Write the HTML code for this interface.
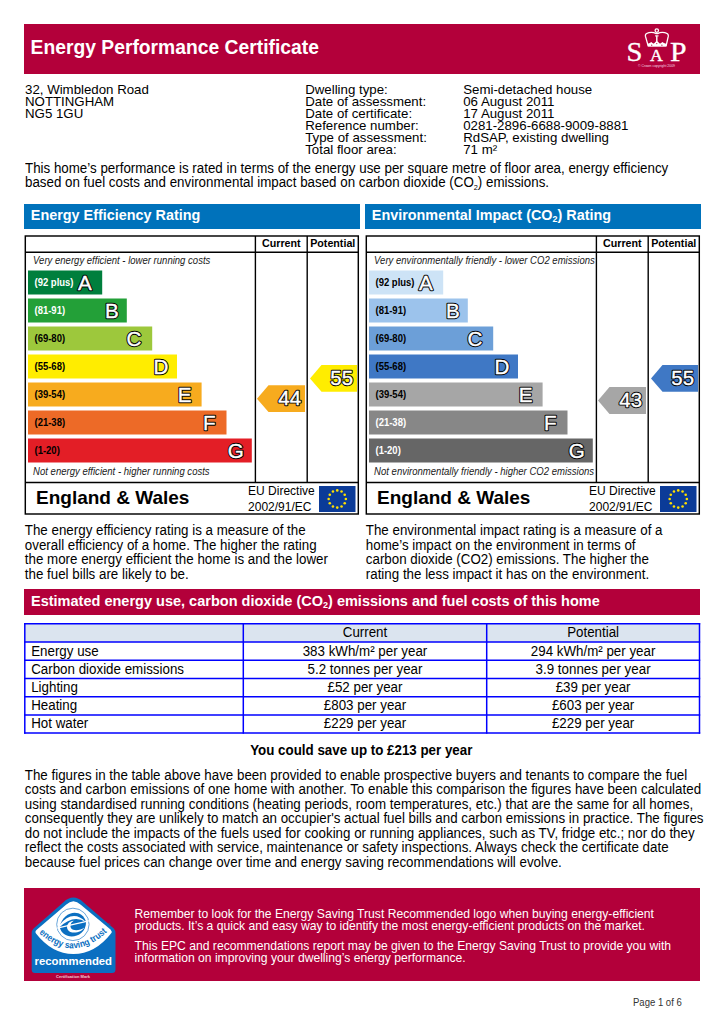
<!DOCTYPE html>
<html><head><meta charset="utf-8"><title>Energy Performance Certificate</title>
<style>
html,body{margin:0;padding:0;background:#fff;}
body{width:724px;height:1024px;position:relative;overflow:hidden;font-family:"Liberation Sans",sans-serif;}
.t{position:absolute;white-space:pre;line-height:1;transform:scaleY(1.05);transform-origin:0 0.8467em;}
.b{position:absolute;}
sub{font-size:0.62em;vertical-align:-0.25em;line-height:0;}
.s2{font-size:0.55em;vertical-align:-0.45em;line-height:0;}
svg{position:absolute;left:0;top:0;}
</style></head><body>
<div class="b" style="left:24px;top:24px;width:676px;height:49.5px;background:#b3003a"></div>
<div class="t" style="left:30.60px;top:37.86px;font-size:19.3px;font-weight:bold;font-style:normal;color:#fff;transform:none;">Energy Performance Certificate</div>
<svg width="724" height="80" viewBox="0 0 724 80" style="left:0;top:0">
<g fill="#fff" font-family="Liberation Serif" font-weight="normal" stroke="#fff" stroke-width="0.35">
<text transform="translate(626.4 60.6) scale(1.04 1)" font-size="27.5">S</text>
<text transform="translate(650.0 60.9) scale(1.08 1)" font-size="16.5">A</text>
<text transform="translate(670.0 60.9) scale(1.08 1)" font-size="27.5">P</text>
</g>
<text x="638" y="66.8" font-size="4" font-family="Liberation Sans" fill="#f3dce3" textLength="37" lengthAdjust="spacingAndGlyphs">© Crown copyright 2009</text>
<g fill="none" stroke="#fff" stroke-width="1.3">
<circle cx="656.8" cy="30.6" r="1.7"/>
<path d="M645.4 36.2 C644.9 32.6 651.7 31.2 656.2 33.6 L657.6 33.6 C662 31.2 668.8 32.6 668.3 36.2 L666.2 45.6 L648.1 45.6 Z"/>
</g>
<g fill="#fff">
<rect x="647.8" y="43.6" width="18.6" height="3"/>
<path d="M648.2 44 L651.3 41.9 L653.6 44 L656.8 40.6 L660 44 L662.3 41.9 L665.6 44 Z"/>
<rect x="656.1" y="35.6" width="1.4" height="5.5"/>
<rect x="655.0" y="35.4" width="3.6" height="1"/>
</g>
<g fill="#b3003a">
<circle cx="651.7" cy="45.2" r="0.6"/><circle cx="656.8" cy="43.6" r="0.6"/><circle cx="661.9" cy="45.2" r="0.6"/>
</g>
</svg>
<div class="t" style="left:25.00px;top:82.96px;font-size:13.28px;font-weight:normal;font-style:normal;color:#000;transform:none;">32, Wimbledon Road</div>
<div class="t" style="left:25.00px;top:94.96px;font-size:13.28px;font-weight:normal;font-style:normal;color:#000;transform:none;">NOTTINGHAM</div>
<div class="t" style="left:25.00px;top:106.96px;font-size:13.28px;font-weight:normal;font-style:normal;color:#000;transform:none;">NG5 1GU</div>
<div class="t" style="left:305.20px;top:82.96px;font-size:13.28px;font-weight:normal;font-style:normal;color:#000;transform:none;">Dwelling type:</div>
<div class="t" style="left:463.20px;top:82.96px;font-size:13.28px;font-weight:normal;font-style:normal;color:#000;transform:none;">Semi-detached house</div>
<div class="t" style="left:305.20px;top:94.96px;font-size:13.28px;font-weight:normal;font-style:normal;color:#000;transform:none;">Date of assessment:</div>
<div class="t" style="left:463.20px;top:94.96px;font-size:13.28px;font-weight:normal;font-style:normal;color:#000;transform:none;">06 August 2011</div>
<div class="t" style="left:305.20px;top:106.96px;font-size:13.28px;font-weight:normal;font-style:normal;color:#000;transform:none;">Date of certificate:</div>
<div class="t" style="left:463.20px;top:106.96px;font-size:13.28px;font-weight:normal;font-style:normal;color:#000;transform:none;">17 August 2011</div>
<div class="t" style="left:305.20px;top:118.96px;font-size:13.28px;font-weight:normal;font-style:normal;color:#000;transform:none;">Reference number:</div>
<div class="t" style="left:463.20px;top:118.96px;font-size:13.28px;font-weight:normal;font-style:normal;color:#000;transform:none;">0281-2896-6688-9009-8881</div>
<div class="t" style="left:305.20px;top:130.96px;font-size:13.28px;font-weight:normal;font-style:normal;color:#000;transform:none;">Type of assessment:</div>
<div class="t" style="left:463.20px;top:130.96px;font-size:13.28px;font-weight:normal;font-style:normal;color:#000;transform:none;">RdSAP, existing dwelling</div>
<div class="t" style="left:305.20px;top:142.96px;font-size:13.28px;font-weight:normal;font-style:normal;color:#000;transform:none;">Total floor area:</div>
<div class="t" style="left:463.20px;top:142.96px;font-size:13.28px;font-weight:normal;font-style:normal;color:#000;transform:none;">71 m²</div>
<div class="t" style="left:25.00px;top:162.40px;font-size:13.35px;font-weight:normal;font-style:normal;color:#000;">This home’s performance is rated in terms of the energy use per square metre of floor area, energy efficiency</div>
<div class="t" style="left:25.00px;top:176.40px;font-size:13.35px;font-weight:normal;font-style:normal;color:#000;">based on fuel costs and environmental impact based on carbon dioxide (CO<span class="s2">2</span>) emissions.</div>
<div class="b" style="left:24px;top:204px;width:335.5px;height:25px;background:#0072bb"></div>
<div class="t" style="left:30.80px;top:207.71px;font-size:14.4px;font-weight:bold;font-style:normal;color:#fff;">Energy Efficiency Rating</div>
<svg width="724" height="1024" viewBox="0 0 724 1024" style="left:0;top:0"><rect x="25.3" y="236.0" width="333.0" height="278.0" fill="none" stroke="#000" stroke-width="1.45"/><line x1="25.3" y1="252.2" x2="358.3" y2="252.2" stroke="#000" stroke-width="1.45"/><line x1="25.3" y1="482.4" x2="358.3" y2="482.4" stroke="#000" stroke-width="1.45"/><line x1="255.4" y1="236.0" x2="255.4" y2="482.4" stroke="#000" stroke-width="1.4"/><line x1="307.2" y1="236.0" x2="307.2" y2="482.4" stroke="#000" stroke-width="1.4"/><g font-family="Liberation Sans" font-weight="bold" font-size="10.7" text-anchor="middle"><text x="281.3" y="247">Current</text><text x="332.75" y="247">Potential</text></g><text transform="translate(33.1 264.0) scale(1 1.12)" font-family="Liberation Sans" font-style="italic" font-size="9.55" fill="#1a1a1a">Very energy efficient - lower running costs</text><text transform="translate(33.1 475.3) scale(1 1.12)" font-family="Liberation Sans" font-style="italic" font-size="9.55" fill="#1a1a1a">Not energy efficient - higher running costs</text><rect x="28" y="270.5" width="74.20" height="24" fill="#007f3d"/><text transform="translate(34.5 285.60) scale(1 1.18)" font-family="Liberation Sans" font-weight="bold" font-size="9.5" fill="#fff">(92 plus)</text><g font-family="Liberation Sans" font-size="20.6" text-anchor="end"><text x="91.64" y="289.50" fill="#000" stroke="#000" stroke-width="2.4" stroke-linejoin="round">A</text><text x="91.64" y="289.50" fill="#fff" stroke="#fff" stroke-width="0.4">A</text></g><rect x="28" y="298.5" width="98.80" height="24" fill="#23a038"/><text transform="translate(34.5 313.60) scale(1 1.18)" font-family="Liberation Sans" font-weight="bold" font-size="9.5" fill="#fff">(81-91)</text><g font-family="Liberation Sans" font-size="20.6" text-anchor="end"><text x="118.79" y="317.50" fill="#000" stroke="#000" stroke-width="2.4" stroke-linejoin="round">B</text><text x="118.79" y="317.50" fill="#fff" stroke="#fff" stroke-width="0.4">B</text></g><rect x="28" y="326.5" width="124.20" height="24" fill="#9dc83c"/><text transform="translate(34.5 341.60) scale(1 1.18)" font-family="Liberation Sans" font-weight="bold" font-size="9.5" fill="#000">(69-80)</text><g font-family="Liberation Sans" font-size="20.6" text-anchor="end"><text x="141.38" y="345.50" fill="#000" stroke="#000" stroke-width="2.4" stroke-linejoin="round">C</text><text x="141.38" y="345.50" fill="#fff" stroke="#fff" stroke-width="0.4">C</text></g><rect x="28" y="354.5" width="149.00" height="24" fill="#ffed00"/><text transform="translate(34.5 369.60) scale(1 1.18)" font-family="Liberation Sans" font-weight="bold" font-size="9.5" fill="#000">(55-68)</text><g font-family="Liberation Sans" font-size="20.6" text-anchor="end"><text x="168.49" y="373.50" fill="#000" stroke="#000" stroke-width="2.4" stroke-linejoin="round">D</text><text x="168.49" y="373.50" fill="#fff" stroke="#fff" stroke-width="0.4">D</text></g><rect x="28" y="382.5" width="173.60" height="24" fill="#f7ab1e"/><text transform="translate(34.5 397.60) scale(1 1.18)" font-family="Liberation Sans" font-weight="bold" font-size="9.5" fill="#000">(39-54)</text><g font-family="Liberation Sans" font-size="20.6" text-anchor="end"><text x="191.49" y="401.50" fill="#000" stroke="#000" stroke-width="2.4" stroke-linejoin="round">E</text><text x="191.49" y="401.50" fill="#fff" stroke="#fff" stroke-width="0.4">E</text></g><rect x="28" y="410.5" width="198.50" height="24" fill="#ed6a27"/><text transform="translate(34.5 425.60) scale(1 1.18)" font-family="Liberation Sans" font-weight="bold" font-size="9.5" fill="#000">(21-38)</text><g font-family="Liberation Sans" font-size="20.6" text-anchor="end"><text x="215.52" y="429.50" fill="#000" stroke="#000" stroke-width="2.4" stroke-linejoin="round">F</text><text x="215.52" y="429.50" fill="#fff" stroke="#fff" stroke-width="0.4">F</text></g><rect x="28" y="438.5" width="223.80" height="24" fill="#e31e26"/><text transform="translate(34.5 453.60) scale(1 1.18)" font-family="Liberation Sans" font-weight="bold" font-size="9.5" fill="#000">(1-20)</text><g font-family="Liberation Sans" font-size="20.6" text-anchor="end"><text x="243.84" y="457.50" fill="#000" stroke="#000" stroke-width="2.4" stroke-linejoin="round">G</text><text x="243.84" y="457.50" fill="#fff" stroke="#fff" stroke-width="0.4">G</text></g><polygon points="257.0,398.64 268.5,385.24 305.0,385.24 305.0,412.04 268.5,412.04" fill="#f7ab1e"/><g font-family="Liberation Sans" font-size="20.4" text-anchor="end"><text x="301.00" y="405.44" fill="#000" stroke="#000" stroke-width="2.4" stroke-linejoin="round">44</text><text x="301.00" y="405.44" fill="#fff" stroke="#fff" stroke-width="0.4">44</text></g><polygon points="310.0,378.4 321.5,365.0 357.0,365.0 357.0,391.8 321.5,391.8" fill="#ffed00"/><g font-family="Liberation Sans" font-size="20.4" text-anchor="end"><text x="353.00" y="385.20" fill="#000" stroke="#000" stroke-width="2.4" stroke-linejoin="round">55</text><text x="353.00" y="385.20" fill="#fff" stroke="#fff" stroke-width="0.4">55</text></g><text x="36" y="503.7" font-family="Liberation Sans" font-weight="bold" font-size="19">England &amp; Wales</text><text x="248.1" y="495.4" font-family="Liberation Sans" font-size="12">EU Directive</text><text x="248.1" y="510.5" font-family="Liberation Sans" font-size="12">2002/91/EC</text><rect x="319" y="486" width="36.5" height="26" fill="#0b3b98"/><circle cx="337.25" cy="490.40" r="1.3" fill="#ffe000"/><circle cx="341.55" cy="491.55" r="1.3" fill="#ffe000"/><circle cx="344.70" cy="494.70" r="1.3" fill="#ffe000"/><circle cx="345.85" cy="499.00" r="1.3" fill="#ffe000"/><circle cx="344.70" cy="503.30" r="1.3" fill="#ffe000"/><circle cx="341.55" cy="506.45" r="1.3" fill="#ffe000"/><circle cx="337.25" cy="507.60" r="1.3" fill="#ffe000"/><circle cx="332.95" cy="506.45" r="1.3" fill="#ffe000"/><circle cx="329.80" cy="503.30" r="1.3" fill="#ffe000"/><circle cx="328.65" cy="499.00" r="1.3" fill="#ffe000"/><circle cx="329.80" cy="494.70" r="1.3" fill="#ffe000"/><circle cx="332.95" cy="491.55" r="1.3" fill="#ffe000"/></svg>
<div class="b" style="left:365px;top:204px;width:335.5px;height:25px;background:#0072bb"></div>
<div class="t" style="left:371.80px;top:207.71px;font-size:14.4px;font-weight:bold;font-style:normal;color:#fff;">Environmental Impact (CO<sub>2</sub>) Rating</div>
<svg width="724" height="1024" viewBox="0 0 724 1024" style="left:0;top:0"><rect x="366.3" y="236.0" width="332.99999999999994" height="278.0" fill="none" stroke="#000" stroke-width="1.45"/><line x1="366.3" y1="252.2" x2="699.3" y2="252.2" stroke="#000" stroke-width="1.45"/><line x1="366.3" y1="482.4" x2="699.3" y2="482.4" stroke="#000" stroke-width="1.45"/><line x1="596.4" y1="236.0" x2="596.4" y2="482.4" stroke="#000" stroke-width="1.4"/><line x1="648.2" y1="236.0" x2="648.2" y2="482.4" stroke="#000" stroke-width="1.4"/><g font-family="Liberation Sans" font-weight="bold" font-size="10.7" text-anchor="middle"><text x="622.3" y="247">Current</text><text x="673.75" y="247">Potential</text></g><text transform="translate(374.1 264.0) scale(1 1.12)" font-family="Liberation Sans" font-style="italic" font-size="9.55" fill="#1a1a1a">Very environmentally friendly - lower CO2 emissions</text><text transform="translate(374.1 475.3) scale(1 1.12)" font-family="Liberation Sans" font-style="italic" font-size="9.55" fill="#1a1a1a">Not environmentally friendly - higher CO2 emissions</text><rect x="369" y="270.5" width="74.20" height="24" fill="#cde3f6"/><text transform="translate(375.5 285.60) scale(1 1.18)" font-family="Liberation Sans" font-weight="bold" font-size="9.5" fill="#000">(92 plus)</text><g font-family="Liberation Sans" font-size="20.6" text-anchor="end"><text x="432.64" y="289.50" fill="#000" stroke="#000" stroke-width="2.4" stroke-linejoin="round">A</text><text x="432.64" y="289.50" fill="#fff" stroke="#fff" stroke-width="0.4">A</text></g><rect x="369" y="298.5" width="98.80" height="24" fill="#9cc3ec"/><text transform="translate(375.5 313.60) scale(1 1.18)" font-family="Liberation Sans" font-weight="bold" font-size="9.5" fill="#000">(81-91)</text><g font-family="Liberation Sans" font-size="20.6" text-anchor="end"><text x="459.79" y="317.50" fill="#000" stroke="#000" stroke-width="2.4" stroke-linejoin="round">B</text><text x="459.79" y="317.50" fill="#fff" stroke="#fff" stroke-width="0.4">B</text></g><rect x="369" y="326.5" width="124.20" height="24" fill="#6c9fd8"/><text transform="translate(375.5 341.60) scale(1 1.18)" font-family="Liberation Sans" font-weight="bold" font-size="9.5" fill="#000">(69-80)</text><g font-family="Liberation Sans" font-size="20.6" text-anchor="end"><text x="482.38" y="345.50" fill="#000" stroke="#000" stroke-width="2.4" stroke-linejoin="round">C</text><text x="482.38" y="345.50" fill="#fff" stroke="#fff" stroke-width="0.4">C</text></g><rect x="369" y="354.5" width="149.00" height="24" fill="#3f78c5"/><text transform="translate(375.5 369.60) scale(1 1.18)" font-family="Liberation Sans" font-weight="bold" font-size="9.5" fill="#000">(55-68)</text><g font-family="Liberation Sans" font-size="20.6" text-anchor="end"><text x="509.49" y="373.50" fill="#000" stroke="#000" stroke-width="2.4" stroke-linejoin="round">D</text><text x="509.49" y="373.50" fill="#fff" stroke="#fff" stroke-width="0.4">D</text></g><rect x="369" y="382.5" width="173.60" height="24" fill="#a6a6a6"/><text transform="translate(375.5 397.60) scale(1 1.18)" font-family="Liberation Sans" font-weight="bold" font-size="9.5" fill="#000">(39-54)</text><g font-family="Liberation Sans" font-size="20.6" text-anchor="end"><text x="532.49" y="401.50" fill="#000" stroke="#000" stroke-width="2.4" stroke-linejoin="round">E</text><text x="532.49" y="401.50" fill="#fff" stroke="#fff" stroke-width="0.4">E</text></g><rect x="369" y="410.5" width="198.50" height="24" fill="#878787"/><text transform="translate(375.5 425.60) scale(1 1.18)" font-family="Liberation Sans" font-weight="bold" font-size="9.5" fill="#fff">(21-38)</text><g font-family="Liberation Sans" font-size="20.6" text-anchor="end"><text x="556.52" y="429.50" fill="#000" stroke="#000" stroke-width="2.4" stroke-linejoin="round">F</text><text x="556.52" y="429.50" fill="#fff" stroke="#fff" stroke-width="0.4">F</text></g><rect x="369" y="438.5" width="223.80" height="24" fill="#666666"/><text transform="translate(375.5 453.60) scale(1 1.18)" font-family="Liberation Sans" font-weight="bold" font-size="9.5" fill="#fff">(1-20)</text><g font-family="Liberation Sans" font-size="20.6" text-anchor="end"><text x="584.84" y="457.50" fill="#000" stroke="#000" stroke-width="2.4" stroke-linejoin="round">G</text><text x="584.84" y="457.50" fill="#fff" stroke="#fff" stroke-width="0.4">G</text></g><polygon points="598.0,400.47999999999996 609.5,387.08 646.0,387.08 646.0,413.88 609.5,413.88" fill="#a6a6a6"/><g font-family="Liberation Sans" font-size="20.4" text-anchor="end"><text x="642.00" y="407.28" fill="#000" stroke="#000" stroke-width="2.4" stroke-linejoin="round">43</text><text x="642.00" y="407.28" fill="#fff" stroke="#fff" stroke-width="0.4">43</text></g><polygon points="651.0,378.4 662.5,365.0 698.0,365.0 698.0,391.8 662.5,391.8" fill="#3f78c5"/><g font-family="Liberation Sans" font-size="20.4" text-anchor="end"><text x="694.00" y="385.20" fill="#000" stroke="#000" stroke-width="2.4" stroke-linejoin="round">55</text><text x="694.00" y="385.20" fill="#fff" stroke="#fff" stroke-width="0.4">55</text></g><text x="377" y="503.7" font-family="Liberation Sans" font-weight="bold" font-size="19">England &amp; Wales</text><text x="589.1" y="495.4" font-family="Liberation Sans" font-size="12">EU Directive</text><text x="589.1" y="510.5" font-family="Liberation Sans" font-size="12">2002/91/EC</text><rect x="660" y="486" width="36.5" height="26" fill="#0b3b98"/><circle cx="678.25" cy="490.40" r="1.3" fill="#ffe000"/><circle cx="682.55" cy="491.55" r="1.3" fill="#ffe000"/><circle cx="685.70" cy="494.70" r="1.3" fill="#ffe000"/><circle cx="686.85" cy="499.00" r="1.3" fill="#ffe000"/><circle cx="685.70" cy="503.30" r="1.3" fill="#ffe000"/><circle cx="682.55" cy="506.45" r="1.3" fill="#ffe000"/><circle cx="678.25" cy="507.60" r="1.3" fill="#ffe000"/><circle cx="673.95" cy="506.45" r="1.3" fill="#ffe000"/><circle cx="670.80" cy="503.30" r="1.3" fill="#ffe000"/><circle cx="669.65" cy="499.00" r="1.3" fill="#ffe000"/><circle cx="670.80" cy="494.70" r="1.3" fill="#ffe000"/><circle cx="673.95" cy="491.55" r="1.3" fill="#ffe000"/></svg>
<div class="t" style="left:24.80px;top:524.00px;font-size:13.35px;font-weight:normal;font-style:normal;color:#000;">The energy efficiency rating is a measure of the</div>
<div class="t" style="left:365.80px;top:524.00px;font-size:13.35px;font-weight:normal;font-style:normal;color:#000;">The environmental impact rating is a measure of a</div>
<div class="t" style="left:24.80px;top:538.60px;font-size:13.35px;font-weight:normal;font-style:normal;color:#000;">overall efficiency of a home. The higher the rating</div>
<div class="t" style="left:365.80px;top:538.60px;font-size:13.35px;font-weight:normal;font-style:normal;color:#000;">home’s impact on the environment in terms of</div>
<div class="t" style="left:24.80px;top:553.20px;font-size:13.35px;font-weight:normal;font-style:normal;color:#000;">the more energy efficient the home is and the lower</div>
<div class="t" style="left:365.80px;top:553.20px;font-size:13.35px;font-weight:normal;font-style:normal;color:#000;">carbon dioxide (CO2) emissions. The higher the</div>
<div class="t" style="left:24.80px;top:567.80px;font-size:13.35px;font-weight:normal;font-style:normal;color:#000;">the fuel bills are likely to be.</div>
<div class="t" style="left:365.80px;top:567.80px;font-size:13.35px;font-weight:normal;font-style:normal;color:#000;">rating the less impact it has on the environment.</div>
<div class="b" style="left:24px;top:589.4px;width:676px;height:25.4px;background:#b3003a"></div>
<div class="t" style="left:31.00px;top:594.41px;font-size:14.52px;font-weight:bold;font-style:normal;color:#fff;">Estimated energy use, carbon dioxide (CO<sub>2</sub>) emissions and fuel costs of this home</div>
<svg width="724" height="1024" viewBox="0 0 724 1024" style="left:0;top:0"><rect x="24.8" y="623.8" width="674.7" height="18.2" fill="#dbe4ef"/><line x1="24.1" y1="623.8" x2="700.2" y2="623.8" stroke="#0000ff" stroke-width="1.5"/><line x1="24.1" y1="642.0" x2="700.2" y2="642.0" stroke="#0000ff" stroke-width="1.5"/><line x1="24.1" y1="660.3" x2="700.2" y2="660.3" stroke="#0000ff" stroke-width="1.5"/><line x1="24.1" y1="678.5" x2="700.2" y2="678.5" stroke="#0000ff" stroke-width="1.5"/><line x1="24.1" y1="696.7" x2="700.2" y2="696.7" stroke="#0000ff" stroke-width="1.5"/><line x1="24.1" y1="714.9" x2="700.2" y2="714.9" stroke="#0000ff" stroke-width="1.5"/><line x1="24.1" y1="733.0" x2="700.2" y2="733.0" stroke="#0000ff" stroke-width="1.5"/><line x1="24.8" y1="623.1" x2="24.8" y2="733.7" stroke="#0000ff" stroke-width="1.5"/><line x1="243.3" y1="623.1" x2="243.3" y2="733.7" stroke="#0000ff" stroke-width="1.5"/><line x1="486.7" y1="623.1" x2="486.7" y2="733.7" stroke="#0000ff" stroke-width="1.5"/><line x1="699.5" y1="623.1" x2="699.5" y2="733.7" stroke="#0000ff" stroke-width="1.5"/></svg>
<div class="t" style="left:165.00px;width:400px;text-align:center;top:625.70px;font-size:13.35px;font-weight:normal;color:#000">Current</div>
<div class="t" style="left:393.10px;width:400px;text-align:center;top:625.70px;font-size:13.35px;font-weight:normal;color:#000">Potential</div>
<div class="t" style="left:31.20px;top:644.70px;font-size:13.35px;font-weight:normal;font-style:normal;color:#000;">Energy use</div>
<div class="t" style="left:165.00px;width:400px;text-align:center;top:644.70px;font-size:13.35px;font-weight:normal;color:#000">383 kWh/m² per year</div>
<div class="t" style="left:393.10px;width:400px;text-align:center;top:644.70px;font-size:13.35px;font-weight:normal;color:#000">294 kWh/m² per year</div>
<div class="t" style="left:31.20px;top:662.90px;font-size:13.35px;font-weight:normal;font-style:normal;color:#000;">Carbon dioxide emissions</div>
<div class="t" style="left:165.00px;width:400px;text-align:center;top:662.90px;font-size:13.35px;font-weight:normal;color:#000">5.2 tonnes per year</div>
<div class="t" style="left:393.10px;width:400px;text-align:center;top:662.90px;font-size:13.35px;font-weight:normal;color:#000">3.9 tonnes per year</div>
<div class="t" style="left:31.20px;top:681.10px;font-size:13.35px;font-weight:normal;font-style:normal;color:#000;">Lighting</div>
<div class="t" style="left:165.00px;width:400px;text-align:center;top:681.10px;font-size:13.35px;font-weight:normal;color:#000">£52 per year</div>
<div class="t" style="left:393.10px;width:400px;text-align:center;top:681.10px;font-size:13.35px;font-weight:normal;color:#000">£39 per year</div>
<div class="t" style="left:31.20px;top:699.30px;font-size:13.35px;font-weight:normal;font-style:normal;color:#000;">Heating</div>
<div class="t" style="left:165.00px;width:400px;text-align:center;top:699.30px;font-size:13.35px;font-weight:normal;color:#000">£803 per year</div>
<div class="t" style="left:393.10px;width:400px;text-align:center;top:699.30px;font-size:13.35px;font-weight:normal;color:#000">£603 per year</div>
<div class="t" style="left:31.20px;top:717.40px;font-size:13.35px;font-weight:normal;font-style:normal;color:#000;">Hot water</div>
<div class="t" style="left:165.00px;width:400px;text-align:center;top:717.40px;font-size:13.35px;font-weight:normal;color:#000">£229 per year</div>
<div class="t" style="left:393.10px;width:400px;text-align:center;top:717.40px;font-size:13.35px;font-weight:normal;color:#000">£229 per year</div>
<div class="t" style="left:161.30px;width:400px;text-align:center;top:743.60px;font-size:13.35px;font-weight:bold;color:#000">You could save up to £213 per year</div>
<div class="t" style="left:24.80px;top:768.90px;font-size:13.35px;font-weight:normal;font-style:normal;color:#000;">The figures in the table above have been provided to enable prospective buyers and tenants to compare the fuel</div>
<div class="t" style="left:24.80px;top:783.38px;font-size:13.35px;font-weight:normal;font-style:normal;color:#000;">costs and carbon emissions of one home with another. To enable this comparison the figures have been calculated</div>
<div class="t" style="left:24.80px;top:797.86px;font-size:13.35px;font-weight:normal;font-style:normal;color:#000;">using standardised running conditions (heating periods, room temperatures, etc.) that are the same for all homes,</div>
<div class="t" style="left:24.80px;top:812.34px;font-size:13.35px;font-weight:normal;font-style:normal;color:#000;">consequently they are unlikely to match an occupier's actual fuel bills and carbon emissions in practice. The figures</div>
<div class="t" style="left:24.80px;top:826.82px;font-size:13.35px;font-weight:normal;font-style:normal;color:#000;">do not include the impacts of the fuels used for cooking or running appliances, such as TV, fridge etc.; nor do they</div>
<div class="t" style="left:24.80px;top:841.30px;font-size:13.35px;font-weight:normal;font-style:normal;color:#000;">reflect the costs associated with service, maintenance or safety inspections. Always check the certificate date</div>
<div class="t" style="left:24.80px;top:855.78px;font-size:13.35px;font-weight:normal;font-style:normal;color:#000;">because fuel prices can change over time and energy saving recommendations will evolve.</div>
<div class="b" style="left:24px;top:888.3px;width:676px;height:92.3px;background:#b3003a"></div>
<div class="t" style="left:134.60px;top:907.61px;font-size:12.15px;font-weight:normal;font-style:normal;color:#fff;">Remember to look for the Energy Saving Trust Recommended logo when buying energy-efficient</div>
<div class="t" style="left:134.60px;top:919.51px;font-size:12.15px;font-weight:normal;font-style:normal;color:#fff;">products. It’s a quick and easy way to identify the most energy-efficient products on the market.</div>
<div class="t" style="left:134.60px;top:940.41px;font-size:12.15px;font-weight:normal;font-style:normal;color:#fff;">This EPC and recommendations report may be given to the Energy Saving Trust to provide you with</div>
<div class="t" style="left:134.60px;top:952.01px;font-size:12.15px;font-weight:normal;font-style:normal;color:#fff;">information on improving your dwelling’s energy performance.</div>
<svg width="724" height="1024" viewBox="0 0 724 1024" style="left:0;top:0">
<path d="M33.6 928.5 L63.5 902.2 Q73.4 893 83.3 902.2 L113.8 928.5 Q115.5 930.5 115.5 933 L115.5 969.5 Q115.5 973 112 973 L35 973 Q31.7 973 31.7 969.5 L31.7 933 Q31.7 930.5 33.6 928.5 Z" fill="#0b6fc1"/>
<path d="M37 929.5 L66 904.8 Q73.4 897.8 80.8 904.8 L110.5 929.5 Q112.5 931.5 111 933.5 Q95 954 73.4 954 Q52 954 36 933.5 Q34.5 931.5 37 929.5 Z" fill="#fff"/>
<circle cx="72.9" cy="924.4" r="16.2" fill="none" stroke="#2a7fcb" stroke-width="0.7"/>
<g transform="translate(58 911) scale(0.04283)">
<path d="M40 375 C110 -10 560 -80 655 255 C660 640 110 720 40 375 Z" fill="#0b6fc1"/>
<path d="M30 330 Q340 -52 650 255 Q350 70 30 385 Z" fill="#fff"/>
<path d="M615 385 C560 500 300 560 225 430 C180 340 250 230 370 225 C300 260 270 340 310 410 C360 470 520 460 615 385 Z" fill="#fff"/>
<path d="M-20 400 L744 225" stroke="#fff" stroke-width="26"/>
</g>
<path id="arcp" d="M39 932.8 Q73.4 965 109 930" fill="none"/>
<text font-family="Liberation Sans" font-weight="bold" font-size="9.2" fill="#0b6fc1"><textPath href="#arcp" textLength="77" lengthAdjust="spacingAndGlyphs">energy saving trust</textPath></text>
<circle cx="109.2" cy="924.5" r="1.1" fill="none" stroke="#0b6fc1" stroke-width="0.4"/>
<text x="73.3" y="964.6" text-anchor="middle" font-family="Liberation Sans" font-weight="bold" font-size="11.4" fill="#fff" textLength="77.5" lengthAdjust="spacingAndGlyphs">recommended</text>
<text x="73" y="978.3" text-anchor="middle" font-family="Liberation Sans" font-weight="bold" font-size="4.4" fill="#f0cdd6" textLength="34" lengthAdjust="spacingAndGlyphs">Certification Mark</text>
</svg>
<div class="t" style="left:632.60px;top:997.02px;font-size:10.6px;font-weight:normal;font-style:normal;color:#333;transform:scaleX(0.9);transform-origin:0 0;">Page 1 of 6</div>
</body></html>
